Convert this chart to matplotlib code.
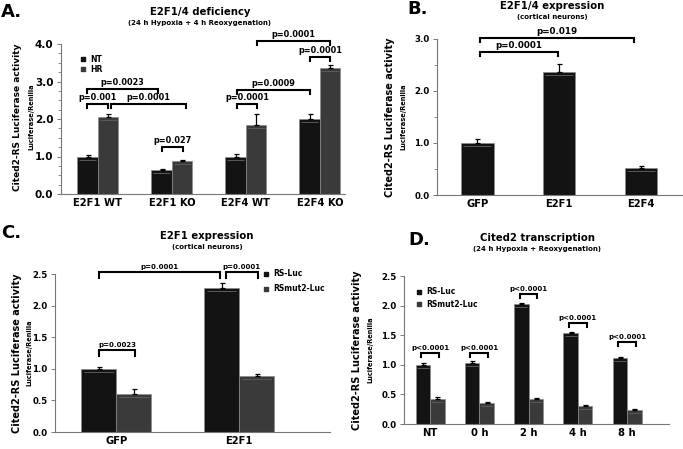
import matplotlib
matplotlib.use('Agg')
import matplotlib.pyplot as plt
import matplotlib.transforms as mtransforms
import numpy as np
from matplotlib.ticker import MultipleLocator, FormatStrFormatter

# ---- data ----
a_groups = ['E2F1 WT', 'E2F1 KO', 'E2F4 WT', 'E2F4 KO']
a_nt = [1.00, 0.63, 1.00, 2.00]
a_nt_err = [0.03, 0.05, 0.08, 0.13]
a_hr = [2.05, 0.88, 1.85, 3.35]
a_hr_err = [0.08, 0.03, 0.28, 0.10]

b_groups = ['GFP', 'E2F1', 'E2F4']
b_vals = [1.00, 2.37, 0.52]
b_err = [0.07, 0.14, 0.03]

c_groups = ['GFP', 'E2F1']
c_rs = [1.00, 2.28]
c_rs_err = [0.03, 0.08]
c_mut = [0.60, 0.88]
c_mut_err = [0.08, 0.03]

d_groups = ['NT', '0 h', '2 h', '4 h', '8 h']
d_rs = [0.99, 1.03, 2.03, 1.54, 1.12]
d_rs_err = [0.04, 0.03, 0.02, 0.02, 0.02]
d_mut = [0.42, 0.36, 0.42, 0.30, 0.24]
d_mut_err = [0.03, 0.02, 0.02, 0.02, 0.02]

# significance brackets: (x1, x2, y, label)
a_sig = [(-0.15, 0.13, 2.40, 'p=0.001'), (0.18, 1.19, 2.40, 'p=0.0001'),
         (-0.15, 0.81, 2.80, 'p=0.0023'), (0.87, 1.15, 1.25, 'p=0.027'),
         (1.88, 2.15, 2.40, 'p=0.0001'), (1.88, 2.86, 2.78, 'p=0.0009'),
         (2.86, 3.14, 3.65, 'p=0.0001'), (2.15, 3.14, 4.08, 'p=0.0001')]
b_sig = [(0.03, 0.99, 2.75, 'p=0.0001'), (0.03, 1.91, 3.02, 'p=0.019')]
c_sig = [(-0.14, 0.15, 1.30, 'p=0.0023'), (-0.14, 0.84, 2.53, 'p=0.0001'),
         (0.89, 1.15, 2.53, 'p=0.0001')]
d_sig = [(-0.18, 0.18, 1.20, 'p<0.0001'), (0.82, 1.18, 1.20, 'p<0.0001'),
         (1.82, 2.18, 2.20, 'p<0.0001'), (2.82, 3.18, 1.71, 'p<0.0001'),
         (3.82, 4.18, 1.39, 'p<0.0001')]

DARK = '#131313'
GRAY = '#3a3a3a'
W, H = 683, 449

plt.rcParams['font.family'] = 'DejaVu Sans'
plt.rcParams['font.weight'] = 'bold'

fig = plt.figure(figsize=(W / 100, H / 100), dpi=100)


def ax_px(x0, x1, ytop, ybot):
    return fig.add_axes([x0 / W, 1 - ybot / H, (x1 - x0) / W, (ybot - ytop) / H])


def style(ax, ymax, major, minor=None, ysize=6.2):
    ax.set_ylim(0, ymax)
    ax.yaxis.set_major_locator(MultipleLocator(major))
    ax.yaxis.set_major_formatter(FormatStrFormatter('%.1f'))
    if minor:
        ax.yaxis.set_minor_locator(MultipleLocator(minor))
    for s in ['top', 'right']:
        ax.spines[s].set_visible(False)
    for s in ['left', 'bottom']:
        ax.spines[s].set_color('#777777')
        ax.spines[s].set_linewidth(0.8)
    ax.tick_params(axis='y', direction='out', length=3, width=0.7, color='#777777',
                   labelsize=ysize, pad=2.5)
    ax.tick_params(axis='y', which='minor', length=2, width=0.6, color='#777777')
    ax.tick_params(axis='x', length=0, labelsize=7.2, pad=3)
    for lab in ax.get_yticklabels() + ax.get_xticklabels():
        lab.set_fontweight('bold')


def bars(ax, x, vals, errs, color, width):
    ax.bar(x, vals, width, color=color, edgecolor='#8a8a8a', linewidth=0.5, zorder=2)
    # faint highlight line just under each bar top
    shift = mtransforms.ScaledTranslation(0, -2.2 / 72, fig.dpi_scale_trans)
    ax.hlines(vals, np.asarray(x) - width * 0.42, np.asarray(x) + width * 0.42,
              colors='#5a5a5a', lw=0.7, transform=ax.transData + shift, zorder=2.5)
    ax.errorbar(x, vals, yerr=[np.zeros(len(vals)), errs], fmt='none', ecolor='black',
                elinewidth=0.9, capsize=1.8, capthick=0.9, zorder=3)


def brackets(ax, sig, leg, fs=5.8):
    for x1, x2, y, lab in sig:
        ax.plot([x1, x1, x2, x2], [y - leg, y, y, y - leg], color='black', lw=1.5,
                clip_on=False, solid_joinstyle='miter', zorder=4)
        ax.annotate(lab, ((x1 + x2) / 2, y), xytext=(0, 1.5), textcoords='offset points',
                    ha='center', va='bottom', fontsize=fs, fontweight='bold',
                    annotation_clip=False)


def ylabels(x1, x2, yc, fs=7):
    fig.text(x1 / W, 1 - yc / H, 'Cited2-RS Luciferase activity', rotation=90,
             ha='center', va='center', fontsize=fs, fontweight='bold')
    fig.text(x2 / W, 1 - yc / H, 'Luciferase/Renilla', rotation=90,
             ha='center', va='center', fontsize=4.8, fontweight='bold')


def titles(xc, y1, y2, t, sub, lx, ly, letter):
    fig.text(xc / W, 1 - y1 / H, t, ha='center', va='center', fontsize=7.3, fontweight='bold')
    fig.text(xc / W, 1 - y2 / H, sub, ha='center', va='center', fontsize=5, fontweight='bold')
    fig.text(lx / W, 1 - ly / H, letter, ha='left', va='center', fontsize=13, fontweight='bold')


def legend(ax, x, ys, labels, colors):
    for y, lab, col in zip(ys, labels, colors):
        ax.scatter([x], [y], marker='s', s=9, color=col, clip_on=False)
        ax.annotate(lab, (x, y), xytext=(5, 0), textcoords='offset points',
                    fontsize=5.5, va='center', fontweight='bold', annotation_clip=False)


# ---- A ----
axA = ax_px(61, 345, 44, 194)
xa = np.arange(len(a_groups))
wa = 0.277
bars(axA, xa - wa / 2, a_nt, a_nt_err, DARK, wa)
bars(axA, xa + wa / 2, a_hr, a_hr_err, GRAY, wa)
axA.set_xlim(-0.5, 3.34)
axA.set_xticks(xa)
axA.set_xticklabels(a_groups)
style(axA, 4.0, 1.0, 0.25, ysize=7.5)
brackets(axA, a_sig, 0.1, fs=5.9)
legend(axA, -0.2, [3.6, 3.33], ['NT', 'HR'], [DARK, GRAY])
ylabels(18, 31, 117, fs=6.5)
titles(200, 12, 23, 'E2F1/4 deficiency', '(24 h Hypoxia + 4 h Reoxygenation)', 1, 12, 'A.')

# ---- B ----
axB = ax_px(437, 682, 39, 195)
xb = np.arange(len(b_groups))
bars(axB, xb, b_vals, b_err, DARK, 0.40)
axB.set_xlim(-0.49, 2.5)
axB.set_xticks(xb)
axB.set_xticklabels(b_groups)
style(axB, 3.0, 1.0, 0.5)
brackets(axB, b_sig, 0.08, fs=6.3)
ylabels(390, 403, 117)
titles(552, 6, 17, 'E2F1/4 expression', '(cortical neurons)', 407, 9, 'B.')

# ---- C ----
axC = ax_px(55, 330, 274, 432)
xc = np.arange(len(c_groups))
wc = 0.285
bars(axC, xc - wc / 2, c_rs, c_rs_err, DARK, wc)
bars(axC, xc + wc / 2, c_mut, c_mut_err, GRAY, wc)
axC.set_xlim(-0.5, 1.74)
axC.set_xticks(xc)
axC.set_xticklabels(c_groups)
style(axC, 2.5, 0.5)
brackets(axC, c_sig, 0.09, fs=5.0)
legend(axC, 1.22, [2.5, 2.27], ['RS-Luc', 'RSmut2-Luc'], [DARK, GRAY])
ylabels(17, 29, 353)
titles(207, 236, 247, 'E2F1 expression', '(cortical neurons)', 1, 233, 'C.')

# ---- D ----
axD = ax_px(404, 669, 276, 424)
xd = np.arange(len(d_groups))
wd = 0.295
bars(axD, xd - wd / 2, d_rs, d_rs_err, DARK, wd)
bars(axD, xd + wd / 2, d_mut, d_mut_err, GRAY, wd)
axD.set_xlim(-0.53, 4.85)
axD.set_xticks(xd)
axD.set_xticklabels(d_groups)
style(axD, 2.5, 0.5)
brackets(axD, d_sig, 0.07, fs=5.0)
legend(axD, -0.22, [2.23, 2.02], ['RS-Luc', 'RSmut2-Luc'], [DARK, GRAY])
ylabels(357, 370, 350)
titles(537, 238, 249, 'Cited2 transcription', '(24 h Hypoxia + Reoxygenation)', 408, 240, 'D.')

fig.savefig('out.png', dpi=100)
